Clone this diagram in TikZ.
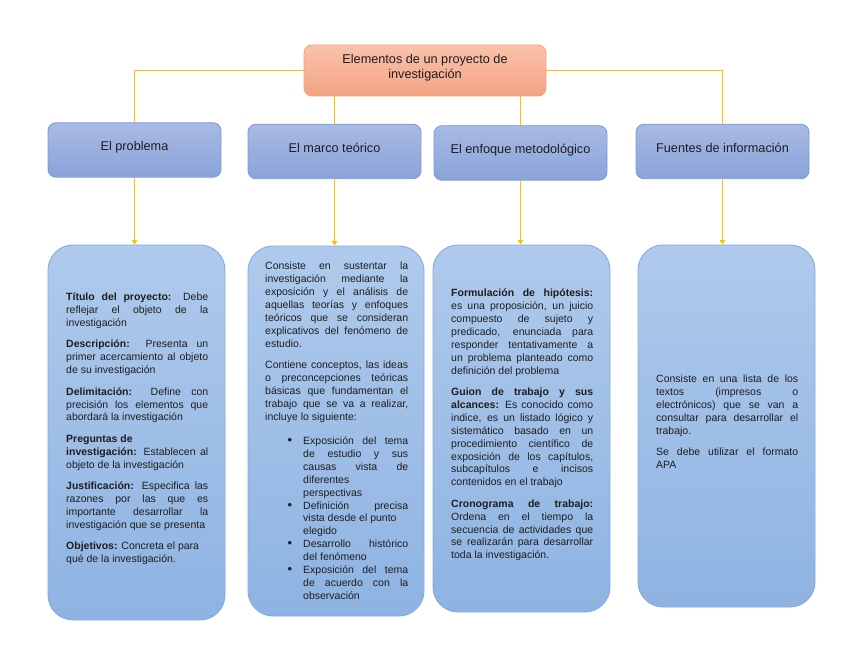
\documentclass[tikz,border=0pt]{standalone}
\usepackage{fontspec}
\setmainfont{Liberation Sans}
\usetikzlibrary{arrows.meta}
\definecolor{conn}{HTML}{FFC000}
\definecolor{topfillA}{HTML}{F9C2AC}
\definecolor{topfillB}{HTML}{F4A383}
\definecolor{topline}{HTML}{F3A47C}
\definecolor{hdrA}{HTML}{A8BAE4}
\definecolor{hdrB}{HTML}{8AA3DA}
\definecolor{hdrline}{HTML}{7F9AD7}
\definecolor{bodyA}{HTML}{AFCAEC}
\definecolor{bodyB}{HTML}{8EB3E2}
\definecolor{bodyline}{HTML}{86ABDF}
\definecolor{txt}{HTML}{1E1E1E}
\newcommand{\bodyfont}{\fontsize{10.5}{12.9}\selectfont\color{txt}\setlength{\parindent}{0pt}\setlength{\parskip}{8.5pt}}
\newcommand{\bigbullet}{{\fontsize{13}{13}\selectfont\textbullet}}
\newenvironment{bulletlist}{\begin{list}{\bigbullet}{\setlength{\leftmargin}{38pt}\setlength{\labelwidth}{10pt}\setlength{\labelsep}{11pt}\setlength{\topsep}{3pt}\setlength{\partopsep}{0pt}\setlength{\parsep}{0pt}\setlength{\itemsep}{0pt}\setlength{\rightmargin}{0pt}}}{\end{list}}
\begin{document}
\begin{tikzpicture}[x=1pt,y=-1pt,
  topbox/.style={draw=topline,line width=0.9pt,top color=topfillA,bottom color=topfillB,rounded corners=8pt,inner sep=0pt,minimum width=242pt,minimum height=51pt,align=center,font=\fontsize{12.7}{15}\selectfont,text=txt,text depth=7.7pt},
  hdrbox/.style={draw=hdrline,line width=0.9pt,top color=hdrA,bottom color=hdrB,rounded corners=8pt,inner sep=0pt,minimum width=173pt,minimum height=54.5pt,font=\fontsize{12.7}{15}\selectfont,text=txt,text height=9pt,text depth=7pt},
  bodybox/.style={draw=bodyline,line width=0.9pt,top color=bodyA,bottom color=bodyB,rounded corners=25pt,inner sep=0pt,minimum width=177pt},
  bodytext/.style={anchor=north west,inner sep=0pt},
  conline/.style={draw=conn,line width=1.6pt},
  conarrow/.style={conline,-{Triangle[width=5.5pt,length=4.5pt]}}
]
\useasboundingbox[fill=white] (0,0) rectangle (848,655);

\node[topbox] (top) at (425,70.5) {Elementos de un proyecto de\\investigación};

\node[hdrbox] (h1) at (134.5,150) {El problema};
\node[hdrbox] (h2) at (334.5,151.5) {El marco teórico};
\node[hdrbox] (h3) at (520.5,153) {El enfoque metodológico};
\node[hdrbox] (h4) at (722.5,151.5) {Fuentes de información};

\node[bodybox,minimum height=375pt] (b1) at (136.5,432.5) {};
\node[bodybox,minimum width=176pt,minimum height=370pt] (b2) at (336,431) {};
\node[bodybox,minimum height=367pt] (b3) at (521.5,428.5) {};
\node[bodybox,minimum height=362pt] (b4) at (726.5,426) {};

\draw[conline] (top.west) -| (h1.north);
\draw[conline] (top.east) -| (h4.north);
\draw[conline] (top.south -| h2.north) -- (h2.north);
\draw[conline] (top.south -| h3.north) -- (h3.north);

\draw[conarrow] (h1.south) -- (h1.south |- b1.north);
\draw[conarrow] (h2.south) -- (h2.south |- b2.north);
\draw[conarrow] (h3.south) -- (h3.south |- b3.north);
\draw[conarrow] (h4.south) -- (h4.south |- b4.north);

\node[bodytext] (t1) at (66,291.5) {\begin{minipage}{142pt}\bodyfont
\strut\textbf{Título del proyecto:} Debe\linebreak reflejar el objeto de la\linebreak investigación

\textbf{Descripción:} Presenta un\linebreak primer acercamiento al objeto\linebreak de su investigación

\textbf{Delimitación:} Define con\linebreak precisión los elementos que\linebreak abordará la investigación

\textbf{Preguntas de}\\ \textbf{investigación:} Establecen al\linebreak objeto de la investigación

\textbf{Justificación:} Especifica las\linebreak razones por las que es\linebreak importante desarrollar la\linebreak investigación que se presenta

\textbf{Objetivos:} Concreta el para\\ qué de la investigación.
\end{minipage}};

\node[bodytext] (t2) at (265,260.5) {\begin{minipage}{143pt}\bodyfont
\strut Consiste en sustentar la\linebreak investigación mediante la\linebreak exposición y el análisis de\linebreak aquellas teorías y enfoques\linebreak teóricos que se consideran\linebreak explicativos del fenómeno de\linebreak estudio.

Contiene conceptos, las ideas\linebreak o preconcepciones teóricas\linebreak básicas que fundamentan el\linebreak trabajo que se va a realizar,\linebreak incluye lo siguiente:
\begin{bulletlist}
\item Exposición del tema\linebreak de estudio y sus\linebreak causas vista de\linebreak diferentes\\ perspectivas
\item Definición precisa\linebreak vista desde el punto\\ elegido
\item Desarrollo histórico\linebreak del fenómeno
\item Exposición del tema\linebreak de acuerdo con la\linebreak observación
\end{bulletlist}
\end{minipage}};

\node[bodytext] (t3) at (451,287.5) {\begin{minipage}{142pt}\bodyfont
\strut\textbf{Formulación de hipótesis:}\linebreak es una proposición, un juicio\linebreak compuesto de sujeto y\linebreak predicado, enunciada para\linebreak responder tentativamente a\linebreak un problema planteado como\linebreak definición del problema

\textbf{Guion de trabajo y sus}\linebreak \textbf{alcances:} Es conocido como\linebreak indice, es un listado lógico y\linebreak sistemático basado en un\linebreak procedimiento científico de\linebreak exposición de los capítulos,\linebreak subcapítulos e incisos\linebreak contenidos en el trabajo

\textbf{Cronograma de trabajo:}\linebreak Ordena en el tiempo la\linebreak secuencia de actividades que\linebreak se realizarán para desarrollar\linebreak toda la investigación.
\end{minipage}};

\node[bodytext] (t4) at (656,373.5) {\begin{minipage}{142pt}\bodyfont
\strut Consiste en una lista de los\linebreak textos (impresos o\linebreak electrónicos) que se van a\linebreak consultar para desarrollar el\linebreak trabajo.

Se debe utilizar el formato\linebreak APA
\end{minipage}};
\end{tikzpicture}
\end{document}
